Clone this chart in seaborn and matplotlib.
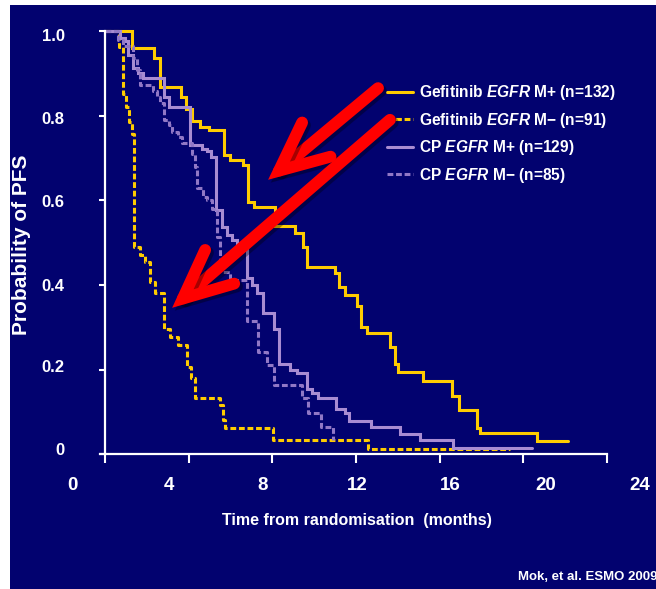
import numpy as np
import pandas as pd
import matplotlib
matplotlib.use("Agg")
import matplotlib.pyplot as plt
import matplotlib.patheffects as pe
from matplotlib.transforms import ScaledTranslation
from matplotlib import font_manager
from matplotlib.patches import Rectangle
from matplotlib.lines import Line2D
from matplotlib.font_manager import FontProperties
import seaborn as sns

# ---------------- data ----------------
gef_pos_t = [0, 1.28, 2.31, 2.63, 3.63, 3.87, 4.14, 4.54, 4.94, 5.66, 5.98, 6.61, 6.85,
             7.12, 8.13, 9.08, 9.45, 9.67, 10.99, 11.20, 11.47, 12.06, 12.24, 12.51,
             13.62, 13.86, 14.02, 15.19, 16.60, 16.94, 17.77, 17.93, 20.63, 22.15]
gef_pos_s = [1.0, 0.962, 0.938, 0.868, 0.846, 0.816, 0.787, 0.775, 0.767, 0.708, 0.696, 0.684, 0.597,
             0.584, 0.540, 0.522, 0.491, 0.443, 0.428, 0.396, 0.376, 0.350, 0.300, 0.287,
             0.253, 0.213, 0.195, 0.173, 0.137, 0.104, 0.061, 0.049, 0.030, 0.030]

gef_neg_t = [0, 0.64, 0.87, 1.00, 1.16, 1.30, 1.40, 1.67, 1.91, 2.15, 2.36, 2.82, 3.11,
             3.50, 3.93, 4.11, 4.30, 5.50, 5.65, 5.74, 8.04, 12.59, 19.36]
gef_neg_s = [1.0, 0.963, 0.852, 0.821, 0.786, 0.757, 0.491, 0.471, 0.455, 0.408, 0.380, 0.297, 0.276,
             0.258, 0.207, 0.179, 0.133, 0.116, 0.080, 0.062, 0.033, 0.011, 0.011]

cp_pos_t = [0, 0.72, 0.96, 1.11, 1.35, 1.59, 1.83, 2.79, 3.03, 4.06, 4.62, 4.86, 5.05, 5.30,
            5.58, 5.82, 6.06, 6.30, 6.77, 7.01, 7.25, 7.54, 8.09, 8.29, 8.84, 9.16, 9.64,
            9.87, 10.19, 11.04, 11.47, 11.66, 12.70, 14.10, 15.06, 16.62, 20.43]
cp_pos_s = [1.0, 0.984, 0.977, 0.944, 0.913, 0.901, 0.889, 0.846, 0.822, 0.731, 0.723, 0.716, 0.704, 0.577,
            0.538, 0.518, 0.506, 0.498, 0.416, 0.400, 0.380, 0.334, 0.297, 0.213, 0.199, 0.191, 0.154,
            0.144, 0.133, 0.106, 0.096, 0.079, 0.063, 0.047, 0.033, 0.014, 0.014]

cp_neg_t = [0, 0.62, 0.86, 1.34, 1.51, 1.67, 2.29, 2.47, 2.63, 2.79, 3.03, 3.19, 3.49, 3.67,
            4.14, 4.30, 4.38, 4.70, 4.86, 5.10, 5.34, 5.50, 5.58, 5.98, 6.77, 7.33, 7.73,
            8.08, 9.42, 9.69, 10.31, 10.88]
cp_neg_s = [1.0, 0.980, 0.965, 0.937, 0.910, 0.873, 0.858, 0.846, 0.830, 0.790, 0.779, 0.763, 0.750, 0.735,
            0.710, 0.680, 0.629, 0.609, 0.601, 0.581, 0.514, 0.459, 0.431, 0.412, 0.315, 0.242, 0.211,
            0.163, 0.132, 0.096, 0.064, 0.033]

group_labels = ["Gefitinib $\\mathit{EGFR}$ M+ (n=132)",
                "Gefitinib $\\mathit{EGFR}$ M\u2212 (n=91)",
                "CP $\\mathit{EGFR}$ M+ (n=129)",
                "CP $\\mathit{EGFR}$ M\u2212 (n=85)"]

x_ticks = [0, 4, 8, 12, 16, 20, 24]
x_ticklabels = ["0", "4", "8", "12", "16", "20", "24"]
y_ticks = [0, 0.2, 0.4, 0.6, 0.8, 1.0]
y_ticklabels = ["0", "0.2", "0.4", "0.6", "0.8", "1.0"]

# ---------------- fonts ----------------
available = {f.name for f in font_manager.fontManager.ttflist}
narrow = next((f for f in ["Liberation Sans Narrow", "Liberation Sans", "Arimo"]
               if f in available), "DejaVu Sans")
regular = "Liberation Sans" if "Liberation Sans" in available else "DejaVu Sans"

sns.set_style("ticks")
plt.rcParams["font.family"] = [narrow, "DejaVu Sans"]
plt.rcParams["font.weight"] = "bold"
plt.rcParams["mathtext.fontset"] = "custom"
plt.rcParams["mathtext.it"] = f"{narrow}:italic:bold"
plt.rcParams["mathtext.rm"] = f"{narrow}:bold"
plt.rcParams["mathtext.bf"] = f"{narrow}:bold"

NAVY = "#02026F"
YELLOW = "#FFCC00"
PURPLE = "#A88CD2"
PURPLE_D = "#9178C6"

# ---------------- frame ----------------
W, H = 656, 589
fig = plt.figure(figsize=(W / 100, H / 100), dpi=100, facecolor="white")
fig.add_artist(Rectangle((10 / W, 0), 1 - 10 / W, 584 / H, transform=fig.transFigure,
                         facecolor=NAVY, edgecolor="none", zorder=-10))

ax = fig.add_axes([100 / W, 135 / H, 507 / W, 422.5 / H])
ax.set_facecolor("none")

frames = []
for lab, t, s in zip(group_labels, [gef_pos_t, gef_neg_t, cp_pos_t, cp_neg_t],
                     [gef_pos_s, gef_neg_s, cp_pos_s, cp_neg_s]):
    frames.append(pd.DataFrame({"time": t, "prob": s, "group": lab}))
df = pd.concat(frames, ignore_index=True)

palette = dict(zip(group_labels, [YELLOW, YELLOW, PURPLE, PURPLE_D]))
dashes = dict(zip(group_labels, ["", (1.9, 0.9), "", (1.9, 0.9)]))

sns.lineplot(data=df, x="time", y="prob", hue="group", style="group",
             hue_order=group_labels, style_order=group_labels,
             palette=palette, dashes=dashes, drawstyle="steps-post",
             estimator=None, errorbar=None, sort=False, lw=2.2, legend=False, ax=ax)
for ln in ax.lines:
    ln.set_clip_on(False)
    ln.set_solid_joinstyle("miter")

ax.set_xlim(-0.25, 24)
ax.set_ylim(0, 1.0)
for side in ["top", "right"]:
    ax.spines[side].set_visible(False)
ax.spines["left"].set_position(("data", 0))
for side in ["left", "bottom"]:
    ax.spines[side].set_color("white")
    ax.spines[side].set_linewidth(1.6)

ax.set_xticks(x_ticks, x_ticklabels)
ax.set_yticks(y_ticks, y_ticklabels)
ax.tick_params(axis="x", direction="out", length=6.5, width=1.5, color="white",
               labelcolor="white", labelsize=13.5, pad=10)
ax.tick_params(axis="y", direction="out", length=4.3, width=1.5, color="white",
               labelcolor="white", labelsize=12, pad=25)
for lb in ax.get_xticklabels() + ax.get_yticklabels():
    lb.set_fontweight("bold")

# slide-style label shifts (pixels)
x_shift = [-33, -20, -10, 1, 11, 22, 33]
y_shift = [5, 4, 0, -1, -2, -4]
for lb, dx in zip(ax.get_xticklabels(), x_shift):
    lb.set_transform(lb.get_transform() + ScaledTranslation(dx / 100, 0, fig.dpi_scale_trans))
for lb, dy in zip(ax.get_yticklabels(), y_shift):
    lb.set_transform(lb.get_transform() + ScaledTranslation(0, dy / 100, fig.dpi_scale_trans))

ax.set_xlabel("Time from randomisation  (months)", color="white", fontsize=11.5,
              fontweight="bold", va="center")
ax.xaxis.set_label_coords((357 - 100) / 507, (454 - 520) / 422.5)
ax.set_ylabel("Probability of PFS", color="white", fontsize=15, fontweight="bold",
              family=[regular, "DejaVu Sans"], va="center")
ax.yaxis.set_label_coords((22 - 100) / 507, (454 - 245) / 422.5)

# legend
handles = []
for g in group_labels:
    h = Line2D([], [], color=palette[g], lw=2.2)
    if dashes[g]:
        h.set_dashes(dashes[g])
    handles.append(h)
leg = ax.legend(handles, group_labels, loc="upper left", bbox_to_anchor=(0.566, 0.878),
                frameon=False, handlelength=1.7, handletextpad=0.33, labelspacing=0.55,
                borderpad=0, borderaxespad=0,
                prop=FontProperties(family=[narrow, "DejaVu Sans"], weight="bold", size=11.2))
for tx in leg.get_texts():
    tx.set_color("white")

# red arrows
arrow_props = dict(arrowstyle="->, head_length=1.75, head_width=0.8", lw=8.5, color="#FF0000",
                   shrinkA=0, shrinkB=0, mutation_scale=20, capstyle="round", joinstyle="miter",
                   path_effects=[pe.SimpleLineShadow(offset=(2, -2), shadow_color="black", alpha=0.35),
                                 pe.Normal()])
ax.annotate("", xy=(7.79, 0.649), xytext=(13.05, 0.866), arrowprops=arrow_props, zorder=10)
ax.annotate("", xy=(3.20, 0.346), xytext=(13.62, 0.791), arrowprops=arrow_props, zorder=10)

fig.text(518 / W, 1 - 577 / H, "Mok, et al. ESMO 2009", color="white", fontsize=9.5,
         fontweight="bold", va="center", ha="left")

fig.savefig("out.png", dpi=100, facecolor=fig.get_facecolor())
